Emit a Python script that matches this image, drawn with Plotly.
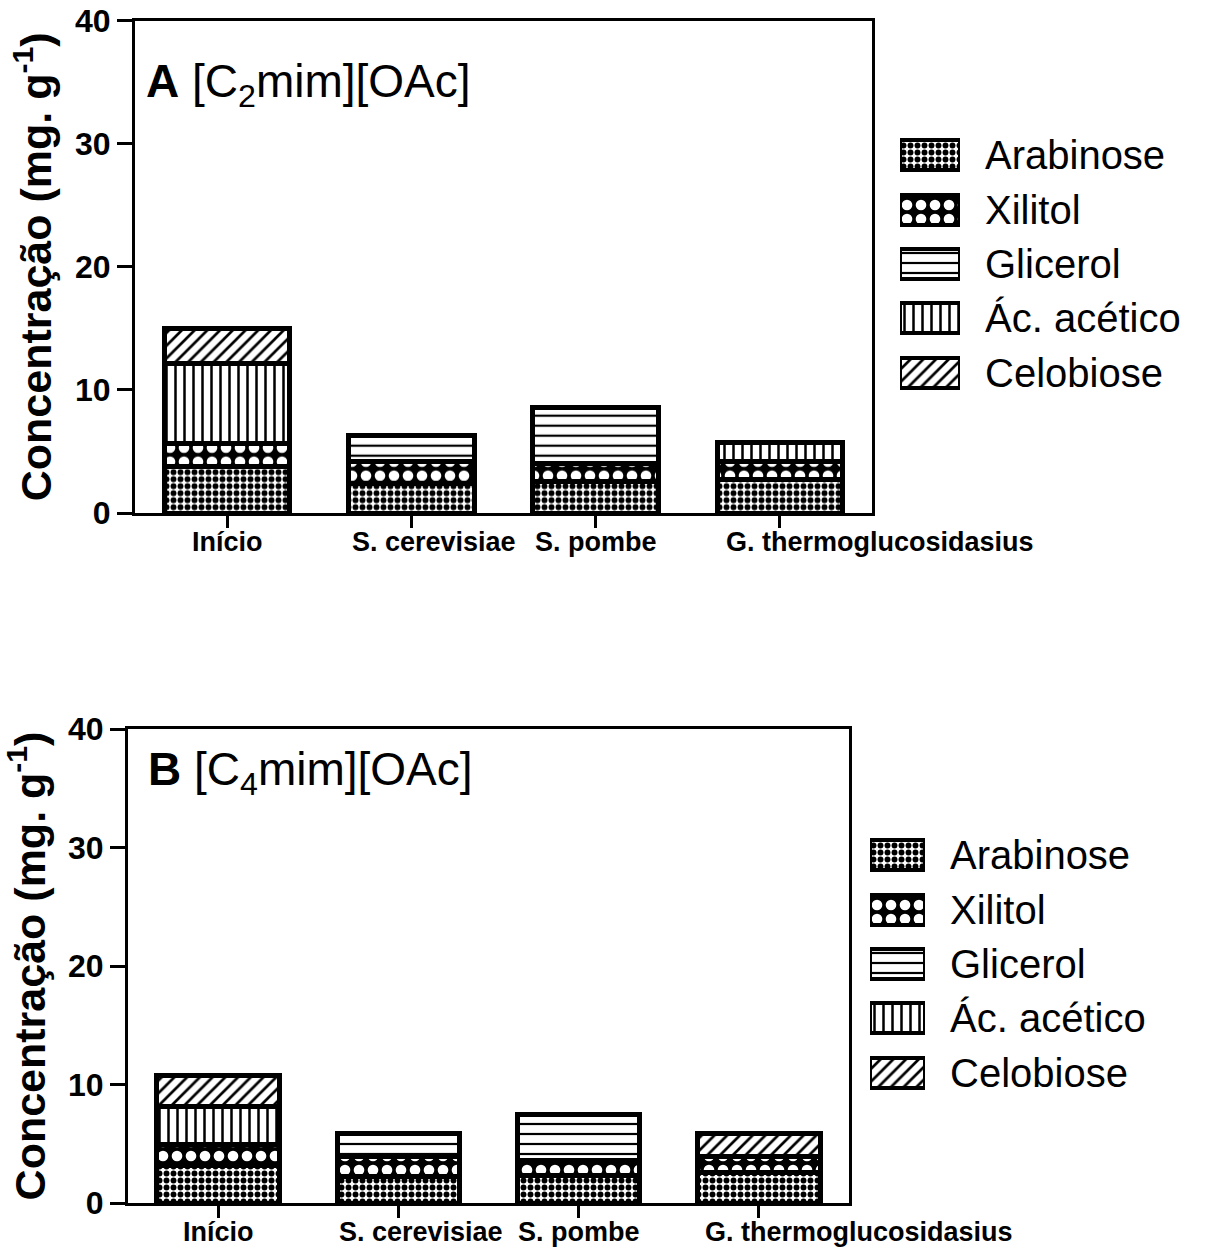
import plotly.graph_objects as go

# ---------------- data ----------------
categories = ["Início", "S. cerevisiae", "S. pombe", "G. thermoglucosidasius"]
series_names = ["Arabinose", "Xilitol", "Glicerol", "Ác. acético", "Celobiose"]

# Panel A  [C2mim][OAc]
a_arabinose = [3.8, 2.4, 2.55, 2.7]
a_xilitol = [1.85, 1.8, 1.5, 1.5]
a_glicerol = [0.0, 2.1, 4.55, 0.0]
a_acetico = [6.5, 0.0, 0.0, 1.5]
a_celobiose = [2.85, 0.0, 0.0, 0.0]

# Panel B  [C4mim][OAc]
b_arabinose = [3.2, 2.2, 2.35, 2.55]
b_xilitol = [1.75, 1.7, 1.25, 1.35]
b_glicerol = [0.0, 2.0, 3.9, 0.0]
b_acetico = [3.2, 0.0, 0.0, 0.0]
b_celobiose = [2.6, 0.0, 0.0, 2.0]

y_ticks = [0, 10, 20, 30, 40]

panel_a = [a_arabinose, a_xilitol, a_glicerol, a_acetico, a_celobiose]
panel_b = [b_arabinose, b_xilitol, b_glicerol, b_acetico, b_celobiose]

# ---------------- styles ----------------
FONT = "Arial, Liberation Sans, sans-serif"
patterns = [
    dict(shape=".", bgcolor="white", fgcolor="black", size=7, solidity=0.55, fillmode="replace"),
    dict(shape=".", bgcolor="black", fgcolor="white", size=14, solidity=0.45, fillmode="replace"),
    dict(shape="-", bgcolor="white", fgcolor="black", size=10, solidity=0.22, fillmode="replace"),
    dict(shape="|", bgcolor="white", fgcolor="black", size=9, solidity=0.28, fillmode="replace"),
    dict(shape="/", bgcolor="white", fgcolor="black", size=9, solidity=0.3, fillmode="replace"),
]
label_shift = [0, 23, 0, 100]

fig = go.Figure()

for panel, (xa, ya) in zip([panel_a, panel_b], [("x", "y"), ("x2", "y2")]):
    for name, vals, pat in zip(series_names, panel, patterns):
        fig.add_trace(go.Bar(
            x=categories, y=vals, name=name, xaxis=xa, yaxis=ya,
            width=0.68,
            marker=dict(color="white", pattern=pat,
                        line=dict(color="black", width=5)),
            showlegend=False,
        ))

# legend swatches drawn as bars on hidden axes
for xa, ya in [("x3", "y3"), ("x4", "y4")]:
    for name, pat in zip(series_names, patterns):
        fig.add_trace(go.Bar(
            y=[name], x=[1], orientation="h", xaxis=xa, yaxis=ya,
            width=0.55,
            marker=dict(color="white", pattern=pat,
                        line=dict(color="black", width=4)),
            showlegend=False, hoverinfo="skip",
        ))

H = 1251.0
W = 1206.0

def xdom(l, r):
    return [l / W, r / W]

def ydom(t, b):
    return [(H - b) / H, (H - t) / H]

def px(x):
    return x / W

def py(y):
    return (H - y) / H

axis_common = dict(
    showline=True, linewidth=3, linecolor="black", mirror=True,
    showgrid=False, zeroline=False, automargin=False,
)

yax = dict(
    axis_common, range=[0, 40], tickvals=y_ticks, ticks="outside",
    ticklen=15, tickwidth=3, tickcolor="black", ticklabeloverflow="allow",
    tickfont=dict(family=FONT, size=32, color="black", weight="bold"),
    title=dict(text="Concentração (mg. g<sup>-1</sup>)",
               font=dict(family=FONT, size=43, color="black", weight="bold"),
               standoff=10),
)
xax = dict(
    axis_common, type="category", categoryarray=categories, range=[-0.5, 3.5],
    ticks="outside", ticklen=12, tickwidth=3, tickcolor="black",
    showticklabels=False,
)

leg_y = dict(
    type="category", categoryarray=series_names, autorange="reversed",
    side="right", showline=False, showgrid=False, zeroline=False,
    automargin=False, ticks="", ticklabelstandoff=24, ticklabeloverflow="allow",
    tickfont=dict(family=FONT, size=40, color="black"),
)
leg_x = dict(visible=False, range=[0, 1], showgrid=False, zeroline=False,
             automargin=False)

fig.update_layout(
    width=1206, height=1251,
    margin=dict(l=0, r=0, t=0, b=0, autoexpand=False),
    paper_bgcolor="white", plot_bgcolor="white",
    barmode="stack", showlegend=False,
    xaxis=dict(xax, domain=xdom(135, 872), anchor="y"),
    yaxis=dict(yax, domain=ydom(20.7, 513), anchor="x"),
    xaxis2=dict(xax, domain=xdom(128, 849), anchor="y2"),
    yaxis2=dict(yax, domain=ydom(729, 1203), anchor="x2"),
    xaxis3=dict(leg_x, domain=xdom(900, 960), anchor="y3"),
    yaxis3=dict(leg_y, domain=ydom(128, 400), anchor="x3"),
    xaxis4=dict(leg_x, domain=xdom(870, 925), anchor="y4"),
    yaxis4=dict(leg_y, domain=ydom(828, 1100), anchor="x4"),
)

annotations = []
for xa, ya in [("x", "y"), ("x2", "y2")]:
    for cat, sh in zip(categories, label_shift):
        annotations.append(dict(
            x=cat, y=0, xref=xa, yref=ya, xanchor="center", yanchor="top",
            xshift=sh, yshift=-12, showarrow=False, text=cat,
            font=dict(family=FONT, size=27, color="black", weight="bold"),
        ))
annotations.append(dict(
    x=px(144), y=py(84), xref="paper", yref="paper",
    xanchor="left", yanchor="middle", showarrow=False,
    text="<b>A</b> [C<sub>2</sub>mim][OAc]",
    font=dict(family=FONT, size=46, color="black"),
))
annotations.append(dict(
    x=px(146), y=py(772), xref="paper", yref="paper",
    xanchor="left", yanchor="middle", showarrow=False,
    text="<b>B</b> [C<sub>4</sub>mim][OAc]",
    font=dict(family=FONT, size=46, color="black"),
))
fig.update_layout(annotations=annotations)

fig.write_html(
    "out.html",
    config={"displayModeBar": False},
    post_script="document.body.style.margin='0';document.body.style.overflow='hidden';",
)
